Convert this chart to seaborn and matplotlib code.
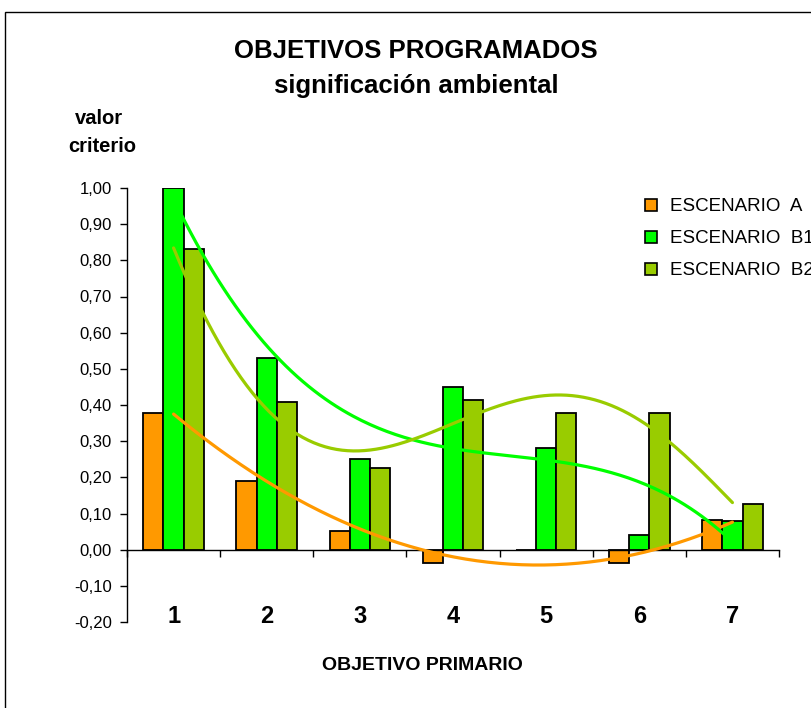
import numpy as np
import pandas as pd
import seaborn as sns
import matplotlib.pyplot as plt
from matplotlib.lines import Line2D
from matplotlib.patches import Rectangle
from matplotlib.ticker import FuncFormatter, MultipleLocator, FixedLocator

# data
objetivos = ['1', '2', '3', '4', '5', '6', '7']
escenario_a = [0.378, 0.189, 0.051, -0.037, 0.0, -0.037, 0.081]
escenario_b1 = [1.00, 0.530, 0.250, 0.449, 0.280, 0.040, 0.080]
escenario_b2 = [0.831, 0.408, 0.225, 0.413, 0.378, 0.378, 0.127]
series_names = ['ESCENARIO  A', 'ESCENARIO  B1', 'ESCENARIO  B2']
colors = ['#FF9900', '#00FF00', '#99CC00']
trend_degree = [2, 3, 5]   # excel style polynomial trendlines

df = pd.DataFrame({
    'objetivo': objetivos * 3,
    'valor': escenario_a + escenario_b1 + escenario_b2,
    'escenario': [n for n in series_names for _ in objetivos],
})

sns.set_style('white')
plt.rcParams['font.family'] = ['Liberation Sans', 'DejaVu Sans']
plt.rcParams['text.color'] = 'black'
plt.rcParams['xtick.color'] = 'black'
plt.rcParams['ytick.color'] = 'black'

fig = plt.figure(figsize=(8.11, 7.08), dpi=100)
ax = fig.add_axes([127 / 811, 1 - 622 / 708, (779 - 127) / 811, (622 - 188) / 708])

sns.barplot(data=df, x='objetivo', y='valor', hue='escenario', palette=colors,
            width=0.65, edgecolor='black', linewidth=1.3, saturation=1,
            legend=False, ax=ax)

# polynomial trendlines through each series
xs = np.arange(len(objetivos))
xfine = np.linspace(0, len(objetivos) - 1, 200)
for vals, c, deg in zip([escenario_a, escenario_b1, escenario_b2], colors, trend_degree):
    coef = np.polyfit(xs, vals, deg)
    ax.plot(xfine, np.polyval(coef, xfine), color=c, lw=2.3, zorder=5)

ax.set_xlim(-0.5, len(objetivos) - 0.5)
ax.set_ylim(-0.2, 1.0)
ax.yaxis.set_major_locator(MultipleLocator(0.1))
ax.yaxis.set_major_formatter(FuncFormatter(lambda v, p: f'{v:.2f}'.replace('.', ',')))
ax.tick_params(axis='y', direction='out', length=5, width=1, labelsize=12, pad=6, left=True)

for s in ['top', 'right']:
    ax.spines[s].set_visible(False)
ax.spines['bottom'].set_position(('data', 0))
for s in ['left', 'bottom']:
    ax.spines[s].set_linewidth(1)
    ax.spines[s].set_color('black')

ax.xaxis.set_minor_locator(FixedLocator(np.arange(-0.5, len(objetivos), 1)))
ax.tick_params(axis='x', which='minor', direction='out', length=5, width=1, bottom=True)
ax.tick_params(axis='x', which='major', length=0, labelsize=17, pad=40)
for t in ax.get_xticklabels():
    t.set_fontweight('bold')
ax.set_xlabel('')
ax.set_ylabel('')

fig.text(416 / 811, 1 - 51 / 708, 'OBJETIVOS PROGRAMADOS', ha='center', va='center',
         fontsize=18.5, fontweight='bold')
fig.text(416 / 811, 1 - 86 / 708, 'significación ambiental',
         ha='center', va='center', fontsize=18.5, fontweight='bold')
fig.text(99 / 811, 1 - 118 / 708, 'valor', ha='center', va='center', fontsize=14.5, fontweight='bold')
fig.text(102 / 811, 1 - 146 / 708, 'criterio', ha='center', va='center', fontsize=14.5, fontweight='bold')
fig.text(422 / 811, 1 - 665 / 708, 'OBJETIVO PRIMARIO', ha='center', va='center',
         fontsize=14, fontweight='bold')

handles = [Line2D([], [], marker='s', ls='', markersize=8, markerfacecolor=c,
                  markeredgecolor='black', markeredgewidth=1.2) for c in colors]
fig.legend(handles, series_names, loc='upper left', bbox_to_anchor=(642 / 811, 1 - 198 / 708),
           frameon=False, fontsize=13.5, handlelength=1.0, handletextpad=0.5,
           labelspacing=0.8, borderpad=0, borderaxespad=0)

fig.add_artist(Rectangle((5 / 811, -0.05), 1.2, 1.05 - 12 / 708, transform=fig.transFigure,
                         fill=False, edgecolor='black', lw=1))

fig.savefig('out.png', dpi=100)
